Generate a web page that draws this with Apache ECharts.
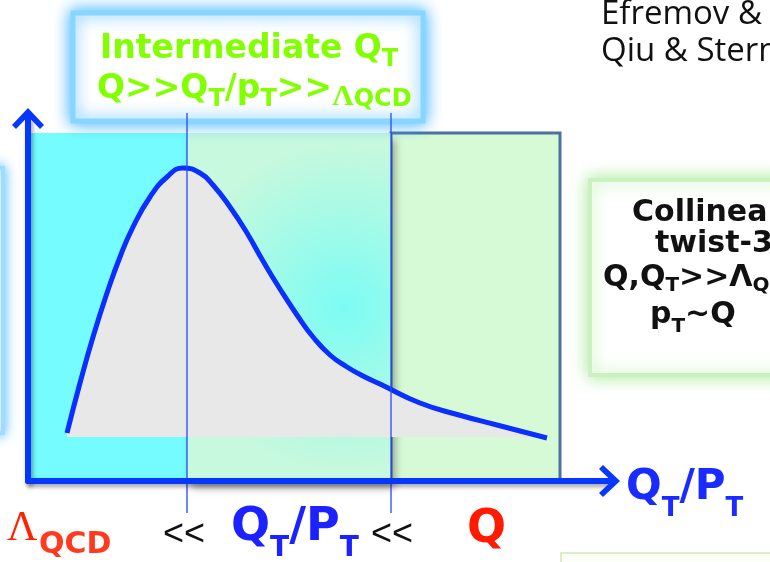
<!DOCTYPE html>
<html>
<head>
<meta charset="utf-8">
<script src="https://cdn.jsdelivr.net/npm/echarts@6/dist/echarts.min.js"></script>
<style>
  html, body { margin: 0; padding: 0; background: #fff; }
  #main { width: 770px; height: 562px; }
</style>
</head>
<body>
<div id="main"></div>
<script>
// curve, in axis units (x from the y axis, y up from the x axis)
var curveX = [39, 52, 65, 79, 92, 105, 122, 139, 155, 172, 185, 202, 219, 235, 252, 269, 285, 302, 319, 335, 352, 392, 431, 469, 519];
var curveY = [48, 98, 144, 188, 224, 254, 284, 304, 313, 308, 296, 274, 248, 220, 192, 166, 144, 126, 114, 105, 97, 78, 66, 56, 43];
var curveBase = 44;

// the three QT regions
var regionNames = ['nonperturbative', 'intermediate', 'collinear'];
var regionFrom = [0, 159, 363];
var regionTo = [159, 363, 532];
var regionTop = [348, 348, 348];

// thin dividers at QT ~ Lambda and QT ~ Q
var dividerX = [159, 363];
var dividerLow = -32;
var dividerHigh = 368;

var axisMaxX = 580;
var axisMaxY = 361;

var chart = echarts.init(document.getElementById('main'));

var blueAxis = '#0637ff';
var green = '#82ff00';
var sans = 'DejaVu Sans';
var arrowPath = 'path://M16,0 L32,17 L28,21 L16,8.5 L4,21 L0,17 Z M13,8 L19,8 L19,24 L13,24 Z';

var regionStyles = {
     nonperturbative: { color: '#74fcfe' },
     intermediate: {
          color: {
               type: 'radial', x: 0.77, y: 0.5, r: 0.8,
               colorStops: [{ offset: 0, color: '#7cfcf4' }, { offset: 1, color: '#c6f9dd' }]
          },
          shadowBlur: 8,
          shadowColor: 'rgba(0,0,0,0.35)',
          shadowOffsetX: 4,
          shadowOffsetY: 7
     },
     collinear: { color: '#d6fad6', borderColor: '#4b71a0', borderWidth: 3 }
};
var drawOrder = [2, 0, 1];

function axisLine() {
     return {
          show: true,
          onZero: false,
          symbol: ['none', arrowPath],
          symbolSize: [32, 24],
          lineStyle: {
               color: blueAxis, width: 6,
               shadowColor: 'rgba(0,0,0,0.35)', shadowBlur: 4, shadowOffsetX: 2, shadowOffsetY: 3
          }
     };
}

// main text + subscript, sub centre dropped by "drop" px below main centre
function subRich(fill, size, subSize, drop, family, weight) {
     return {
          m: { fill: fill, fontSize: size, fontFamily: family, fontWeight: weight, lineHeight: size, verticalAlign: 'top' },
          s: { fill: fill, fontSize: subSize, fontFamily: family, fontWeight: weight, lineHeight: size / 2 + drop + subSize / 2, verticalAlign: 'bottom' }
     };
}

function txt(x, y, text, style) {
     style.text = text;
     return { type: 'text', x: x, y: y, z: 20, silent: true, style: style };
}

var line2Rich = subRich(green, 33, 24, 11, sans, 'bold');
line2Rich.g = { fill: green, fontSize: 30, fontFamily: 'Liberation Serif', fontWeight: 'bold', lineHeight: 16.5 + 5 + 15, verticalAlign: 'bottom' };

var boxText = { verticalAlign: 'middle', fill: '#111', fontFamily: sans, fontWeight: 'bold', fontSize: 30 };

var graphics = [
     // glowing boxes
     { type: 'rect', z: 5, silent: true, shape: { x: 73, y: 13, width: 350, height: 108 },
       style: { fill: '#fff', stroke: '#86d6ff', lineWidth: 5, shadowBlur: 16, shadowColor: 'rgba(40,170,255,0.9)' } },
     { type: 'rect', z: 5, silent: true, shape: { x: 590, y: 180, width: 250, height: 195 },
       style: { fill: '#fff', stroke: '#c9f2c0', lineWidth: 4, shadowBlur: 16, shadowColor: 'rgba(150,230,130,0.8)' } },
     { type: 'rect', z: 5, silent: true, shape: { x: -250, y: 168, width: 253, height: 265 },
       style: { fill: '#fff', stroke: '#9fdcff', lineWidth: 4, shadowBlur: 12, shadowColor: 'rgba(60,180,255,0.8)' } },
     { type: 'rect', z: 5, silent: true, shape: { x: 561, y: 553, width: 300, height: 60 },
       style: { fill: '#fbfff6', stroke: '#d2e6bd', lineWidth: 1.5 } },

     // top box
     txt(100, 33, '{m|Intermediate Q}{s|T}', { verticalAlign: 'top', rich: subRich(green, 33, 24, 10.5, sans, 'bold') }),
     txt(97, 72.5, '{m|Q>>Q}{s|T}{m|/p}{s|T}{m|>>}{g|Λ}{s|QCD}', { verticalAlign: 'top', rich: line2Rich }),

     // references
     txt(601, 15, 'Efremov & Teryaev', { verticalAlign: 'middle', fill: '#111', fontFamily: 'Open Sans', fontSize: 33 }),
     txt(601, 52, 'Qiu & Sterman', { verticalAlign: 'middle', fill: '#111', fontFamily: 'Open Sans', fontSize: 33 }),

     // collinear box
     txt(632, 213, 'Collinear/', Object.assign({}, boxText)),
     txt(655, 244, 'twist-3', Object.assign({}, boxText)),
     txt(603, 263, '{m|Q,Q}{s|T}{m|>>Λ}{s|QCD}', { verticalAlign: 'top', rich: subRich('#111', 30, 20, 8, sans, 'bold') }),
     txt(650, 300, '{m|p}{s|T}{m|~Q}', { verticalAlign: 'top', rich: subRich('#111', 30, 20, 12, sans, 'bold') }),

     // axis label
     txt(626, 467, '{m|Q}{s|T}{m|/P}{s|T}', { verticalAlign: 'top', rich: subRich('#1a2bff', 42, 26, 21, sans, 'bold') }),

     // scale ordering under the axis
     txt(7, 529, 'Λ', { verticalAlign: 'middle', fill: '#ff2200', fontFamily: 'Liberation Serif', fontSize: 42 }),
     txt(39, 545, 'QCD', { verticalAlign: 'middle', fill: '#ff3a1f', fontFamily: sans, fontWeight: 'bold', fontSize: 30 }),
     txt(163, 535, '<<', { verticalAlign: 'middle', fill: '#111', fontFamily: 'Liberation Sans', fontSize: 36 }),
     txt(231, 505, '{m|Q}{s|T}{m|/P}{s|T}', { verticalAlign: 'top', rich: subRich('#1c22ff', 46, 28, 21, sans, 'bold') }),
     txt(371, 535, '<<', { verticalAlign: 'middle', fill: '#111', fontFamily: 'Liberation Sans', fontSize: 36 }),
     txt(467, 530, 'Q', { verticalAlign: 'middle', fill: '#ff1a00', fontFamily: sans, fontWeight: 'bold', fontSize: 46 })
];

var series = [
     {
          name: 'regions',
          type: 'line',
          data: [],
          z: 1,
          silent: true,
          clip: false,
          markArea: {
               silent: true,
               label: { show: false },
               data: drawOrder.map(function (i) {
                    return [
                         { name: regionNames[i], xAxis: regionFrom[i], yAxis: 0, itemStyle: regionStyles[regionNames[i]] },
                         { xAxis: regionTo[i], yAxis: regionTop[i] }
                    ];
               })
          }
     },
     {
          name: 'curve',
          type: 'line',
          z: 3,
          smooth: 0.5,
          symbol: 'none',
          silent: true,
          lineStyle: { color: '#0a30ff', width: 5 },
          areaStyle: { color: '#e8e8e8', opacity: 1, origin: curveBase },
          data: curveX.map(function (x, i) { return [x, curveY[i]]; })
     }
];

dividerX.forEach(function (x, i) {
     series.push({
          name: 'divider' + i,
          type: 'line',
          z: 6,
          clip: false,
          silent: true,
          symbol: 'none',
          lineStyle: { color: '#2447ff', width: 1.3 },
          data: [[x, dividerLow], [x, dividerHigh]]
     });
});

chart.setOption({
     animation: false,
     grid: { left: 28, right: 162, top: 120, bottom: 81, containLabel: false },
     xAxis: {
          type: 'value', min: 0, max: axisMaxX, z: 10,
          axisLine: axisLine(), axisTick: { show: false }, axisLabel: { show: false }, splitLine: { show: false }
     },
     yAxis: {
          type: 'value', min: 0, max: axisMaxY, z: 10,
          axisLine: axisLine(), axisTick: { show: false }, axisLabel: { show: false }, splitLine: { show: false }
     },
     graphic: graphics,
     series: series
});
</script>
</body>
</html>
